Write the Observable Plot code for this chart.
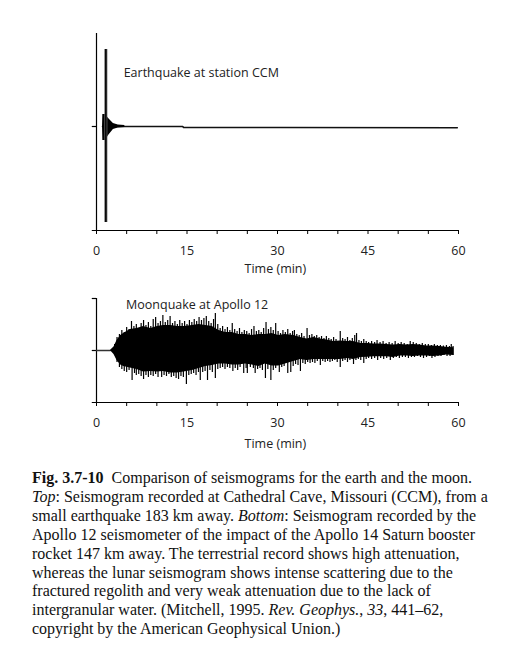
<!DOCTYPE html>
<html><head><meta charset="utf-8">
<script src="https://cdn.jsdelivr.net/npm/d3@7"></script>
<script src="https://cdn.jsdelivr.net/npm/@observablehq/plot@0.6"></script>
<style>
body{margin:0;background:#fff;width:531px;}
#top svg,#bottom svg{display:block}
.caption{font-family:"Liberation Serif",serif;font-size:16px;line-height:18.9px;color:#111;margin:14px 0 0 32px;white-space:pre}
</style></head><body>
<div id="top"></div><div id="bottom"></div>
<div class="caption" id="cap"></div>
<script>
// ---- axis / tick data ----
const minorTicks = [0,5,10,15,20,25,30,35,40,45,50,55,60];
const majorTicks = [0,15,30,45,60];
const xLabel = "Time (min)";

// ---- Earthquake (top) ----
const quakeYDomain = [-104, 93];
const quakeBurstT     = [1.0, 1.05, 1.5, 2.0, 2.8, 3.6, 4.7];
const quakeBurstUpper = [0, 12, 12, 8, 3, 1.5, 1];
const quakeBurstLower = [0, -14, -14, -9, -3, -1.5, -1];
const quakeBaseT = [1.0, 14.3, 14.4, 30.5, 59.8];
const quakeBaseY = [0, 0, -0.9, -1.0, -1.3];
const quakeSpikeT = [1.55];
const quakeSpikeTop = [77];
const quakeSpikeBottom = [-96];
const quakeLabel = {text: "Earthquake at station CCM", t: 4.5, y: 54};

// ---- Moonquake (bottom) ----
const moonYDomain = [-52, 52];
const moonQuietT = [0, 2.3];
// solid core of the coda envelope
const moonT = [2.3, 2.9, 3.4, 4.0, 4.5, 5.6, 6.7, 7.8, 9.0, 10.1, 11.1, 12.3, 13.4, 14.5, 15.9, 17.0, 18.1, 19.2, 20.3, 21.4, 22.5, 23.6, 24.7, 25.8, 26.9, 28.0, 29.1, 30.2, 31.3, 32.7, 33.8, 34.9, 36.0, 37.1, 38.2, 39.3, 40.4, 41.6, 42.6, 43.8, 44.9, 46.0, 47.0, 48.1, 49.2, 50.3, 51.4, 52.5, 53.6, 54.7, 55.8, 56.9, 58.0, 59.25];
const moonUpper = [0, 3.5, 10, 15, 17, 21, 22, 24, 22, 24, 25, 25, 24, 24, 25, 26, 25, 24, 20, 18, 18, 16, 16, 15, 16, 16, 17, 15, 16, 15, 13, 11.5, 13, 11.5, 10.5, 9, 9.5, 9, 9, 7, 7, 6.5, 6.5, 6, 5.5, 6, 5.5, 6, 5.5, 4.5, 4.5, 4, 3.2, 2.8];
const moonLower = [0, -4, -10, -14.5, -16, -17.5, -19, -21.5, -21, -21.5, -21, -22.5, -22.5, -21.5, -20, -18, -16, -15, -13.5, -13.5, -14.5, -14.5, -13.5, -14.5, -16, -13.5, -15.5, -15.5, -13.5, -11, -9, -10, -9, -9, -9, -9, -9, -8, -9, -7, -6.8, -6.3, -6.3, -6.3, -7, -5.5, -5.5, -6, -5.5, -5.5, -6, -5.5, -4.5, -5];
// upward spike tips
const moonUpT = [3.0, 3.4, 3.8, 4.2, 4.6, 5.0, 5.4, 5.8, 6.2, 6.6, 7.0, 7.4, 7.8, 8.2, 8.6, 9.0, 9.4, 9.8, 10.2, 10.6, 11.0, 11.4, 11.8, 12.2, 12.6, 13.0, 13.4, 13.8, 14.2, 14.6, 15.0,
  15.4, 15.8, 16.2, 16.6, 17.0, 17.4, 17.8, 18.2, 18.6, 19.0, 19.4, 19.7, 20.1, 20.5, 20.9, 21.3, 21.7, 22.1, 22.5, 22.9, 23.3, 23.7, 24.1, 24.5, 24.9, 25.3, 25.7, 26.1, 26.5, 26.9, 27.3, 27.7, 28.1, 28.5, 28.9, 29.3, 29.7,
  30.1, 30.5, 30.9, 31.3, 31.7, 32.1, 32.5, 32.8, 33.2, 33.6, 34.0, 34.4, 34.9, 35.3, 35.7, 36.1, 36.5, 36.9, 37.3, 37.7, 38.1, 38.5, 38.9, 39.3, 39.7, 40.4, 40.8, 41.2, 41.6, 42.0, 42.4, 42.8, 43.1, 43.5, 43.9, 44.3, 44.7,
  45.1, 45.6, 46.1, 46.5, 47.0, 47.5, 48.0, 48.5, 49.0, 49.5, 50.0, 50.5, 51.0, 51.5, 52.0, 52.5, 53.0, 53.5, 54.0, 54.5, 55.0, 55.5, 56.0, 56.5, 57.0, 57.5, 58.0, 58.5, 58.8, 59.1];
const moonUpTip = [6, 13, 16, 20, 18, 23, 21, 29, 24, 26, 22, 27, 30, 25, 28, 24, 31, 33, 27, 29, 35, 28, 30, 34, 27, 29, 26, 30, 27, 29, 26,
  30, 28, 31, 29, 33, 30, 32, 34, 29, 27, 31, 37, 26, 22, 24, 21, 23, 20, 27, 21, 19, 22, 18, 20, 19, 17, 21, 24, 19, 20, 18, 22, 28, 21, 23, 20, 27,
  19, 17, 20, 18, 21, 17, 19, 20, 16, 15, 17, 14, 22, 15, 16, 14, 15, 13, 14, 12, 14, 12, 11, 13, 11, 19, 12, 11, 13, 10, 12, 15, 17, 10, 9, 11, 9,
  8, 9, 8, 10, 8, 9, 7, 8, 7, 9, 7, 8, 7, 6, 9, 8, 7, 6, 7, 6, 6, 5, 6, 5, 5, 4.5, 5, 4, 6, 4];
// downward spike tips
const moonDnT = [3.0, 3.4, 3.8, 4.2, 4.6, 5.0, 5.4, 5.9, 6.3, 6.6, 7.0, 7.4, 7.8, 8.2, 8.6, 9.0, 9.4, 9.8, 10.2, 10.8, 11.2, 11.6, 12.0, 12.4, 12.8, 13.2, 13.6, 14.0, 14.4, 14.9, 15.3,
  15.7, 16.1, 16.5, 16.9, 17.2, 17.6, 18.0, 18.4, 18.8, 19.2, 19.7, 20.1, 20.5, 20.9, 21.3, 21.7, 22.1, 22.6, 23.0, 23.4, 23.8, 24.4, 24.8, 25.0, 25.5, 26.0, 26.3, 26.7, 27.1, 27.5, 28.0, 28.4, 28.9, 29.3, 29.7,
  30.3, 30.7, 31.1, 31.7, 32.2, 32.6, 33.0, 33.4, 33.8, 34.2, 34.6, 35.0, 35.4, 35.8, 36.2, 36.6, 37.1, 37.5, 37.9, 38.3, 38.7, 39.1, 39.5, 39.9, 40.4, 40.8, 41.2, 41.6, 42.0, 42.6, 43.0, 43.4, 43.8, 44.3, 44.7,
  45.1, 45.6, 46.1, 46.6, 47.1, 47.6, 48.1, 48.7, 49.2, 49.7, 50.2, 50.7, 51.2, 51.7, 52.2, 52.7, 53.2, 53.7, 54.2, 54.7, 55.2, 55.6, 56.1, 56.6, 57.1, 57.6, 58.1, 58.6, 59.1];
const moonDnTip = [-5, -12, -17, -19, -21, -22, -20, -30, -23, -25, -24, -26, -29, -25, -27, -25, -26, -24, -27, -27, -25, -26, -24, -27, -26, -28, -29, -26, -27, -34, -25,
  -24, -23, -25, -22, -30, -22, -21, -30, -20, -22, -28, -19, -18, -17, -19, -17, -18, -21, -18, -20, -17, -23, -18, -23, -17, -18, -23, -19, -18, -20, -28, -19, -30, -20, -18,
  -22, -17, -16, -23, -22, -16, -14, -15, -21, -13, -14, -12, -13, -12, -13, -11, -15, -11, -12, -11, -12, -11, -10, -12, -17, -11, -10, -12, -10, -14, -10, -9, -10, -13, -9,
  -8, -9, -8, -10, -8, -9, -8, -10, -8, -7, -8, -7, -7, -8, -7, -7, -6, -7, -8, -7, -6, -8, -7, -6, -6, -5, -6, -6, -5];
const moonLabel = {text: "Moonquake at Apollo 12", t: 4.9, y: 46};

// ---- caption ----
const captionLines = [
  [["Fig. 3.7-10", "b"], ["  Comparison of seismograms for the earth and the moon.", ""]],
  [["Top", "i"], [": Seismogram recorded at Cathedral Cave, Missouri (CCM), from a", ""]],
  [["small earthquake 183 km away. ", ""], ["Bottom", "i"], [": Seismogram recorded by the", ""]],
  [["Apollo 12 seismometer of the impact of the Apollo 14 Saturn booster", ""]],
  [["rocket 147 km away. The terrestrial record shows high attenuation,", ""]],
  [["whereas the lunar seismogram shows intense scattering due to the", ""]],
  [["fractured regolith and very weak attenuation due to the lack of", ""]],
  [["intergranular water. (Mitchell, 1995. ", ""], ["Rev. Geophys.", "i"], [", ", ""], ["33", "i"], [", 441–62,", ""]],
  [["copyright by the American Geophysical Union.)", ""]]
];

// ---- layout ----
const W = 531;
const xDomain = [-0.7, 60];
const marginLeft = 96 - 0.7 * (362 / 60);
const marginRight = 73;
const font = {fontFamily: "'Open Sans', sans-serif", fontSize: "12.5px", color: "#222", background: "#fff", overflow: "visible"};

function axes(yDomain, leftTicks, labelOffset) {
  return [
    Plot.ruleY([yDomain[0]], {stroke: "#000", strokeWidth: 1.2}),
    Plot.ruleX([0], {stroke: "#000", strokeWidth: 1.2}),
    Plot.ruleY(leftTicks, {x1: xDomain[0], x2: 0, stroke: "#000", strokeWidth: 1.2}),
    Plot.axisX({ticks: minorTicks, tickSize: 4, tickPadding: 12, stroke: "#000",
      tickFormat: d => majorTicks.includes(d) ? String(d) : "",
      label: xLabel, labelAnchor: "center", labelArrow: "none", labelOffset})
  ];
}

const burst = quakeBurstT.map((t, i) => ({t, hi: quakeBurstUpper[i], lo: quakeBurstLower[i]}));
const base = quakeBaseT.map((t, i) => ({t, y: quakeBaseY[i]}));
const qSpike = quakeSpikeT.map((t, i) => ({t, top: quakeSpikeTop[i], bot: quakeSpikeBottom[i]}));

const topChart = Plot.plot({
  width: W, height: 275, marginLeft, marginRight, marginTop: 33, marginBottom: 45,
  style: font,
  x: {domain: xDomain},
  y: {domain: quakeYDomain, axis: null},
  marks: [
    ...axes(quakeYDomain, [0], 42),
    Plot.line(base, {x: "t", y: "y", stroke: "#111", strokeWidth: 1.6}),
    Plot.areaY(burst, {x: "t", y1: "lo", y2: "hi", fill: "#000"}),
    Plot.ruleX(qSpike, {x: "t", y1: "bot", y2: "top", stroke: "#666", strokeWidth: 3}),
    Plot.ruleX(qSpike, {x: "t", y1: "bot", y2: "top", stroke: "#000", strokeWidth: 1.5}),
    Plot.text([quakeLabel], {x: "t", y: "y", text: "text", textAnchor: "start", fontSize: 12.5, fill: "#222"})
  ]
});
document.getElementById("top").append(topChart);

const env = moonT.map((t, i) => ({t, hi: moonUpper[i], lo: moonLower[i]}));
const spikes = [
  ...moonUpT.map((t, i) => ({t, tip: moonUpTip[i]})),
  ...moonDnT.map((t, i) => ({t, tip: moonDnTip[i]}))
];
const quiet = moonQuietT.map(t => ({t, y: 0}));

const bottomChart = Plot.plot({
  width: W, height: 180, marginLeft, marginRight, marginTop: 23, marginBottom: 53,
  style: font,
  x: {domain: xDomain},
  y: {domain: moonYDomain, axis: null},
  marks: [
    ...axes(moonYDomain, [moonYDomain[1], 0], 45),
    Plot.line(quiet, {x: "t", y: "y", stroke: "#333", strokeWidth: 1.4}),
    Plot.areaY(env, {x: "t", y1: "lo", y2: "hi", fill: "#000"}),
    Plot.ruleX(spikes, {x: "t", y1: 0, y2: "tip", stroke: "#000", strokeWidth: 1.2}),
    Plot.text([moonLabel], {x: "t", y: "y", text: "text", textAnchor: "start", fontSize: 12.5, fill: "#222"})
  ]
});
document.getElementById("bottom").append(bottomChart);

const cap = document.getElementById("cap");
for (const line of captionLines) {
  const div = document.createElement("div");
  for (const [txt, st] of line) {
    const s = document.createElement("span");
    s.textContent = txt;
    if (st === "b") s.style.fontWeight = "bold";
    if (st === "i") s.style.fontStyle = "italic";
    div.append(s);
  }
  cap.append(div);
}
</script>
</body></html>
